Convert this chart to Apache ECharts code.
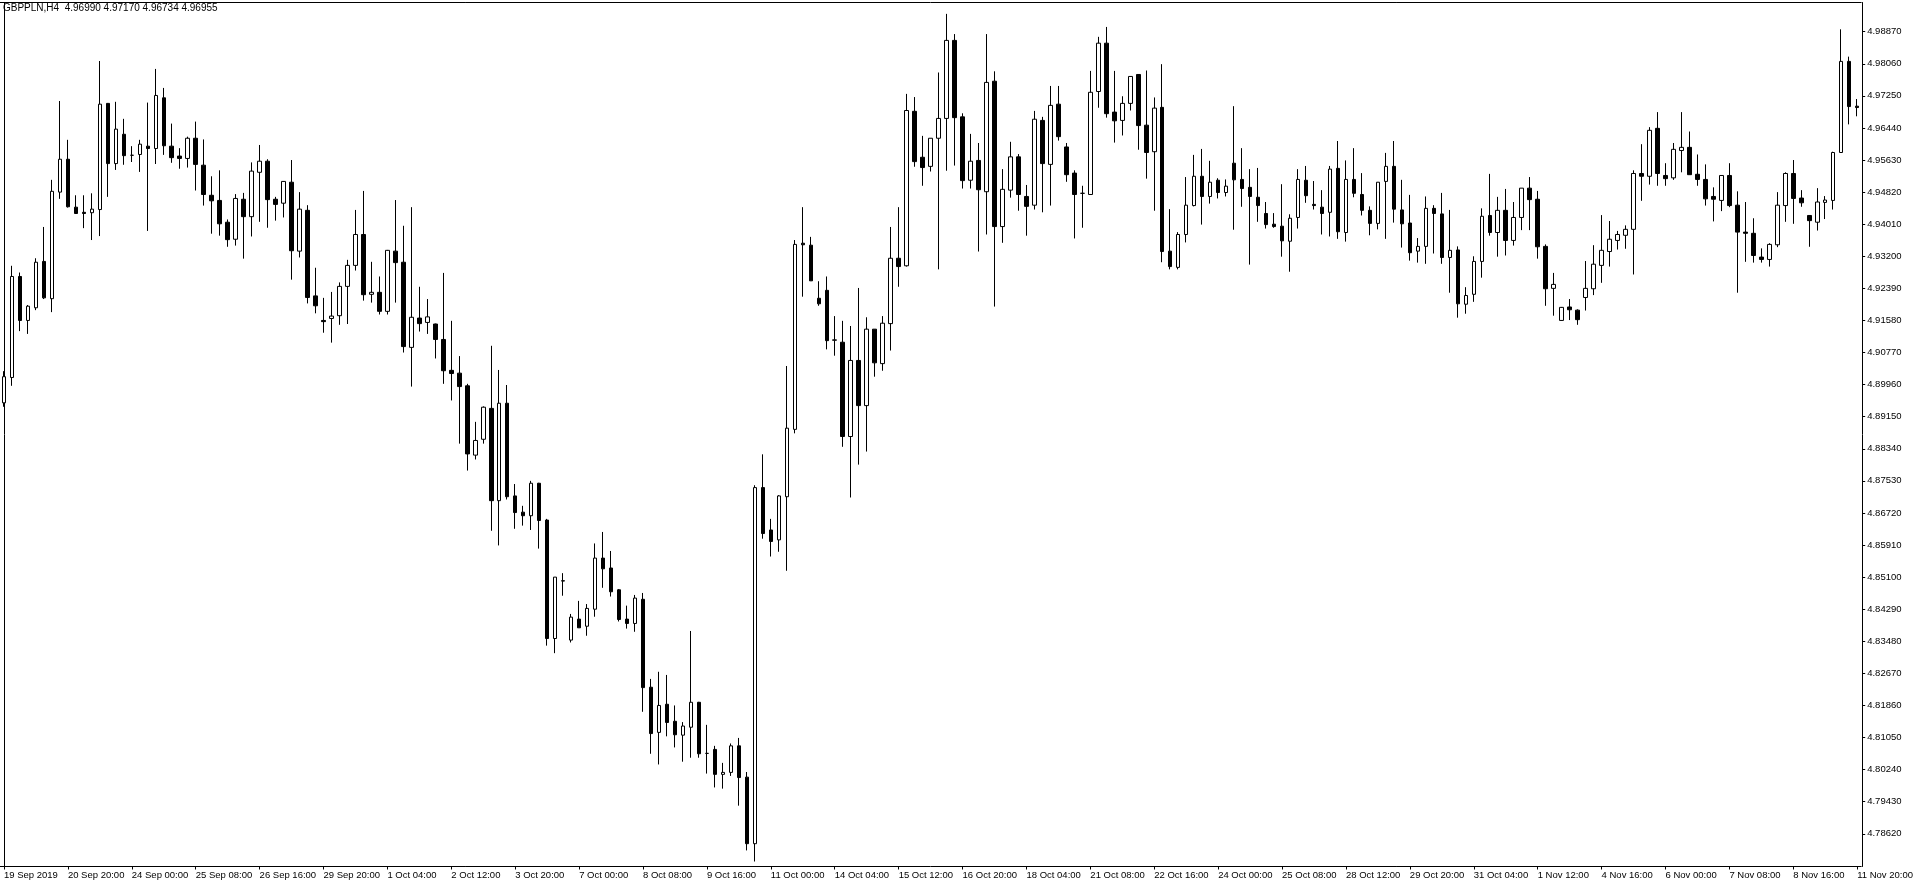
<!DOCTYPE html>
<html><head><meta charset="utf-8">
<script src="https://cdn.jsdelivr.net/npm/echarts@6/dist/echarts.min.js"></script>
<style>html,body{margin:0;padding:0;background:#fff}#c{width:1916px;height:888px}</style>
</head><body><div id="c"></div>
<script>
const symbolTitle = 'GBPPLN,H4  4.96990 4.97170 4.96734 4.96955';

const xTickLabels = ['19 Sep 2019','20 Sep 20:00','24 Sep 00:00','25 Sep 08:00','26 Sep 16:00','29 Sep 20:00',
 '1 Oct 04:00','2 Oct 12:00','3 Oct 20:00','7 Oct 00:00','8 Oct 08:00','9 Oct 16:00','11 Oct 00:00',
 '14 Oct 04:00','15 Oct 12:00','16 Oct 20:00','18 Oct 04:00','21 Oct 08:00','22 Oct 16:00','24 Oct 00:00',
 '25 Oct 08:00','28 Oct 12:00','29 Oct 20:00','31 Oct 04:00','1 Nov 12:00','4 Nov 16:00','6 Nov 00:00',
 '7 Nov 08:00','8 Nov 16:00','11 Nov 20:00'];

const priceTicks = [4.78620,4.79430,4.80240,4.81050,4.81860,4.82670,4.83480,4.84290,4.85100,4.85910,
 4.86720,4.87530,4.88340,4.89150,4.89960,4.90770,4.91580,4.92390,4.93200,4.94010,4.94820,4.95630,
 4.96440,4.97250,4.98060,4.98870];

const opens = [
 4.8950,4.9014,4.9269,4.9158,4.9190,4.9307,4.9213,4.9482,4.9565,4.9444,
 4.9431,4.9430,4.9438,4.9706,4.9554,4.9628,4.9575,4.9577,4.9598,4.9592,
 4.9720,4.9598,4.9573,4.9567,4.9618,4.9550,4.9474,4.9461,4.9406,4.9363,
 4.9464,4.9420,4.9532,4.9560,4.9464,4.9454,4.9507,4.9333,4.9436,4.9220,
 4.9158,4.9163,4.9170,4.9244,4.9297,4.9375,4.9224,4.9229,4.9181,4.9333,
 4.9305,4.9090,4.9164,4.9153,4.9149,4.9110,4.9032,4.9025,4.8993,4.8818,
 4.8858,4.8936,4.8703,4.8949,4.8715,4.8674,4.8665,4.8747,4.8654,4.8355,
 4.8500,4.8351,4.8404,4.8386,4.8429,4.8558,4.8533,4.8478,4.8404,4.8393,
 4.8454,4.8232,4.8118,4.8189,4.8146,4.8111,4.8131,4.8194,4.8065,4.8075,
 4.8012,4.8017,4.8084,4.8005,4.7837,4.8736,4.8629,4.8604,4.8713,4.8883,
 4.9353,4.9348,4.9214,4.9234,4.9108,4.9103,4.8865,4.9057,4.8943,4.9136,
 4.9049,4.9150,4.9315,4.9296,4.9686,4.9570,4.9547,4.9618,4.9668,4.9865,
 4.9672,4.9512,4.9562,4.9483,4.9762,4.9395,4.9487,4.9571,4.9471,4.9449,
 4.9663,4.9552,4.9704,4.9596,4.9530,4.9479,4.9476,4.9736,4.9858,4.9684,
 4.9663,4.9706,4.9779,4.9651,4.9584,4.9696,4.9333,4.9292,4.9375,4.9448,
 4.9522,4.9471,4.9512,4.9481,4.9555,4.9514,4.9494,4.9469,4.9428,4.9401,
 4.9396,4.9358,4.9418,4.9512,4.9451,4.9444,4.9431,4.9542,4.9380,4.9514,
 4.9476,4.9436,4.9403,4.9509,4.9547,4.9437,4.9404,4.9333,4.9345,4.9441,
 4.9427,4.9317,4.9336,4.9199,4.9224,4.9307,4.9423,4.9380,4.9436,4.9360,
 4.9418,4.9492,4.9464,4.9345,4.9239,4.9158,4.9192,4.9184,4.9216,4.9238,
 4.9297,4.9332,4.9360,4.9373,4.9388,4.9529,4.9522,4.9643,4.9524,4.9518,
 4.9587,4.9595,4.9527,4.9514,4.9471,4.9461,4.9524,4.9449,4.9381,4.9378,
 4.9318,4.9312,4.9349,4.9448,4.9529,4.9467,4.9423,4.9406,4.9456,4.9461,
 4.9582,4.9812,4.96990];

const highs = [
 4.9030,4.9296,4.9279,4.9197,4.9315,4.9394,4.9513,4.9712,4.9614,4.9474,
 4.9474,4.9479,4.9813,4.9707,4.9710,4.9667,4.9598,4.9614,4.9708,4.9793,
 4.9745,4.9655,4.9593,4.9622,4.9660,4.9615,4.9522,4.9537,4.9413,4.9477,
 4.9480,4.9557,4.9601,4.9565,4.9470,4.9510,4.9563,4.9482,4.9449,4.9291,
 4.9215,4.9230,4.9254,4.9311,4.9437,4.9485,4.9306,4.9269,4.9336,4.9462,
 4.9397,4.9444,4.9243,4.9212,4.9150,4.9278,4.9157,4.9068,4.8998,4.8902,
 4.8941,4.9094,4.9033,4.8995,4.8745,4.8690,4.8753,4.8748,4.8657,4.8510,
 4.8520,4.8417,4.8450,4.8442,4.8595,4.8624,4.8576,4.8480,4.8438,4.8465,
 4.8470,4.8253,4.8271,4.8263,4.8186,4.8144,4.8374,4.8195,4.8137,4.8084,
 4.8041,4.8090,4.8104,4.8018,4.8742,4.8820,4.8657,4.8717,4.9043,4.9361,
 4.9444,4.9369,4.9257,4.9269,4.9169,4.9157,4.9144,4.9240,4.9166,4.9136,
 4.9169,4.9394,4.9444,4.9730,4.9722,4.9624,4.9618,4.9784,4.9932,4.9881,
 4.9681,4.9629,4.9606,4.9881,4.9787,4.9540,4.9609,4.9578,4.9500,4.9687,
 4.9672,4.9750,4.9750,4.9606,4.9537,4.9498,4.9788,4.9874,4.9899,4.9788,
 4.9724,4.9775,4.9780,4.9789,4.9721,4.9805,4.9439,4.9381,4.9520,4.9576,
 4.9591,4.9561,4.9517,4.9514,4.9699,4.9593,4.9540,4.9543,4.9457,4.9429,
 4.9502,4.9426,4.9540,4.9548,4.9510,4.9487,4.9548,4.9611,4.9562,4.9593,
 4.9530,4.9446,4.9507,4.9581,4.9611,4.9513,4.9475,4.9366,4.9471,4.9449,
 4.9480,4.9437,4.9345,4.9242,4.9320,4.9441,4.9528,4.9470,4.9490,4.9457,
 4.9492,4.9520,4.9485,4.9350,4.9278,4.9192,4.9212,4.9186,4.9308,4.9348,
 4.9424,4.9409,4.9384,4.9398,4.9537,4.9603,4.9646,4.9684,4.9555,4.9606,
 4.9684,4.9635,4.9577,4.9552,4.9494,4.9525,4.9555,4.9484,4.9457,4.9416,
 4.9340,4.9353,4.9482,4.9532,4.9563,4.9487,4.9424,4.9492,4.9472,4.9584,
 4.9893,4.9824,4.97170];

const lows = [
 4.8940,4.8993,4.9131,4.9124,4.9184,4.9212,4.9179,4.9465,4.9443,4.9427,
 4.9391,4.9361,4.9371,4.9470,4.9538,4.9551,4.9558,4.9533,4.9384,4.9553,
 4.9576,4.9556,4.9541,4.9544,4.9486,4.9448,4.9377,4.9372,4.9344,4.9347,
 4.9314,4.9370,4.9407,4.9392,4.9410,4.9418,4.9261,4.9317,4.9201,4.9176,
 4.9127,4.9102,4.9147,4.9149,4.9284,4.9208,4.9203,4.9173,4.9173,4.9203,
 4.9077,4.8991,4.9130,4.9124,4.9062,4.8998,4.8956,4.8847,4.8779,4.8807,
 4.8847,4.8627,4.8590,4.8706,4.8632,4.8640,4.8629,4.8582,4.8337,4.8318,
 4.8463,4.8345,4.8382,4.8362,4.8410,4.8483,4.8461,4.8398,4.8380,4.8372,
 4.8170,4.8064,4.8037,4.8108,4.8080,4.8044,4.8054,4.8054,4.8014,4.7979,
 4.7976,4.8008,4.7933,4.7820,4.7792,4.8607,4.8562,4.8574,4.8526,4.8873,
 4.9218,4.9258,4.9195,4.9085,4.9069,4.8839,4.8711,4.8794,4.8827,4.9016,
 4.9031,4.9082,4.9243,4.9294,4.9546,4.9498,4.9534,4.9287,4.9536,4.9549,
 4.9491,4.9491,4.9332,4.9375,4.9193,4.9354,4.9468,4.9435,4.9372,4.9438,
 4.9431,4.9448,4.9612,4.9508,4.9365,4.9392,4.9475,4.9695,4.9670,4.9607,
 4.9625,4.9688,4.9589,4.9516,4.9435,4.9305,4.9287,4.9287,4.9355,4.9446,
 4.9400,4.9453,4.9466,4.9471,4.9387,4.9445,4.9299,4.9407,4.9390,4.9392,
 4.9319,4.9281,4.9390,4.9455,4.9438,4.9375,4.9370,4.9364,4.9357,4.9469,
 4.9423,4.9373,4.9388,4.9364,4.9405,4.9342,4.9309,4.9304,4.9301,4.9327,
 4.9301,4.9228,4.9165,4.9175,4.9205,4.9266,4.9372,4.9319,4.9322,4.9347,
 4.9386,4.9386,4.9314,4.9195,4.9170,4.9157,4.9159,4.9147,4.9183,4.9222,
 4.9253,4.9294,4.9337,4.9339,4.9274,4.9460,4.9501,4.9498,4.9498,4.9513,
 4.9532,4.9526,4.9498,4.9448,4.9408,4.9434,4.9444,4.9228,4.9306,4.9304,
 4.9304,4.9294,4.9343,4.9407,4.9402,4.9445,4.9344,4.9385,4.9414,4.9438,
 4.9582,4.9653,4.96734];

const closes = [
 4.9016,4.9269,4.9158,4.9194,4.9305,4.9215,4.9484,4.9565,4.9445,4.9428,
 4.9428,4.9439,4.9704,4.9554,4.9641,4.9574,4.9575,4.9603,4.9592,4.9726,
 4.9599,4.9569,4.9567,4.9618,4.9552,4.9476,4.9460,4.9402,4.9362,4.9466,
 4.9420,4.9535,4.9560,4.9463,4.9451,4.9509,4.9334,4.9439,4.9216,4.9195,
 4.9155,4.9169,4.9244,4.9297,4.9375,4.9223,4.9229,4.9181,4.9335,4.9304,
 4.9092,4.9166,4.9150,4.9167,4.9110,4.9031,4.9024,4.8991,4.8821,4.8855,
 4.8939,4.8703,4.8949,4.8713,4.8673,4.8665,4.8747,4.8653,4.8355,4.8510,
 4.8501,4.8409,4.8382,4.8431,4.8558,4.8531,4.8473,4.8403,4.8393,4.8457,
 4.8231,4.8115,4.8186,4.8143,4.8112,4.8134,4.8194,4.8064,4.8065,4.8012,
 4.8017,4.8084,4.8004,4.7837,4.8736,4.8620,4.8600,4.8715,4.8886,4.9350,
 4.9349,4.9258,4.9200,4.9107,4.9109,4.8865,4.9057,4.8943,4.9136,4.9051,
 4.9151,4.9315,4.9294,4.9688,4.9559,4.9544,4.9618,4.9668,4.9865,4.9670,
 4.9511,4.9560,4.9488,4.9759,4.9395,4.9489,4.9571,4.9476,4.9446,4.9666,
 4.9554,4.9701,4.9622,4.9526,4.9476,4.9479,4.9734,4.9858,4.9680,4.9662,
 4.9706,4.9774,4.9650,4.9582,4.9694,4.9332,4.9294,4.9375,4.9449,4.9522,
 4.9471,4.9507,4.9481,4.9497,4.9513,4.9491,4.9471,4.9448,4.9400,4.9395,
 4.9359,4.9416,4.9514,4.9473,4.9448,4.9428,4.9540,4.9382,4.9514,4.9479,
 4.9436,4.9403,4.9507,4.9547,4.9439,4.9402,4.9329,4.9345,4.9441,4.9428,
 4.9317,4.9335,4.9200,4.9221,4.9307,4.9421,4.9380,4.9436,4.9360,4.9418,
 4.9492,4.9463,4.9344,4.9238,4.9249,4.9191,4.9185,4.9160,4.9239,4.9300,
 4.9335,4.9363,4.9375,4.9388,4.9529,4.9522,4.9638,4.9529,4.9516,4.9590,
 4.9595,4.9526,4.9514,4.9465,4.9464,4.9524,4.9448,4.9381,4.9378,4.9322,
 4.9312,4.9350,4.9449,4.9529,4.9466,4.9455,4.9410,4.9457,4.9462,4.9582,
 4.9812,4.9698,4.96955];

// H4 bar times: weekdays plus the Sunday 20:00 bar
const months = ['Jan','Feb','Mar','Apr','May','Jun','Jul','Aug','Sep','Oct','Nov','Dec'];
const categories = [];
let t = Date.UTC(2019, 8, 19, 12);
while (categories.length < opens.length) {
  const d = new Date(t);
  const day = d.getUTCDay(), h = d.getUTCHours();
  if ((day >= 1 && day <= 5) || (day === 0 && h === 20)) {
    categories.push(d.getUTCDate() + ' ' + months[d.getUTCMonth()] + ' ' + String(h).padStart(2,'0') + ':00');
  }
  t += 4 * 3600 * 1000;
}

const ohlc = opens.map((o, i) => [o, closes[i], lows[i], highs[i]]);

const FONT = 'Liberation Sans';
const yMin = 4.77794, yMax = 4.99607;

const chart = echarts.init(document.getElementById('c'), null, {renderer: 'canvas'});
chart.setOption({
  animation: false,
  backgroundColor: '#ffffff',
  title: {
    text: symbolTitle, left: 3, top: 3, padding: 0,
    textStyle: {fontFamily: FONT, fontSize: 10, fontWeight: 'normal', color: '#000'}
  },
  grid: {left: -1.5, top: 2.5, width: 1864, height: 864, show: false},
  xAxis: [{
    type: 'category', data: categories, boundaryGap: true,
    axisLine: {show: true, lineStyle: {color: '#000', width: 1}},
    axisTick: {show: true, alignWithLabel: true, interval: 7, length: 3, lineStyle: {color: '#000', width: 1}},
    axisLabel: {
      interval: 7, align: 'left', margin: 4, color: '#000', fontFamily: FONT, fontSize: 9.5,
      formatter: (v, i) => xTickLabels[Math.round(i / 8)]
    },
    splitLine: {show: false}
  }, {
    type: 'category', data: categories, boundaryGap: true, position: 'top',
    axisLine: {show: true, onZero: false, lineStyle: {color: '#000', width: 1}},
    axisTick: {show: false}, axisLabel: {show: false}, splitLine: {show: false}
  }],
  yAxis: [{
    type: 'value', position: 'right', offset: 1, min: yMin, max: yMax,
    axisLine: {show: true, lineStyle: {color: '#000', width: 1}},
    axisTick: {show: true, length: 3, customValues: priceTicks, lineStyle: {color: '#000'}},
    axisLabel: {
      customValues: priceTicks, margin: 5, color: '#000', fontFamily: FONT, fontSize: 9.5,
      formatter: v => Number(v).toFixed(5)
    },
    splitLine: {show: false}
  }, {
    type: 'value', position: 'left', offset: -4, min: yMin, max: yMax,
    axisLine: {show: true, onZero: false, lineStyle: {color: '#000', width: 1}},
    axisTick: {show: false}, axisLabel: {show: false}, splitLine: {show: false}
  }],
  series: [{
    type: 'candlestick', xAxisIndex: 0, yAxisIndex: 0, data: ohlc, barWidth: 4,
    itemStyle: {
      color: '#ffffff', color0: '#000000',
      borderColor: '#000000', borderColor0: '#000000', borderColorDoji: '#000000', borderWidth: 1
    }
  }]
});
</script>
</body></html>
